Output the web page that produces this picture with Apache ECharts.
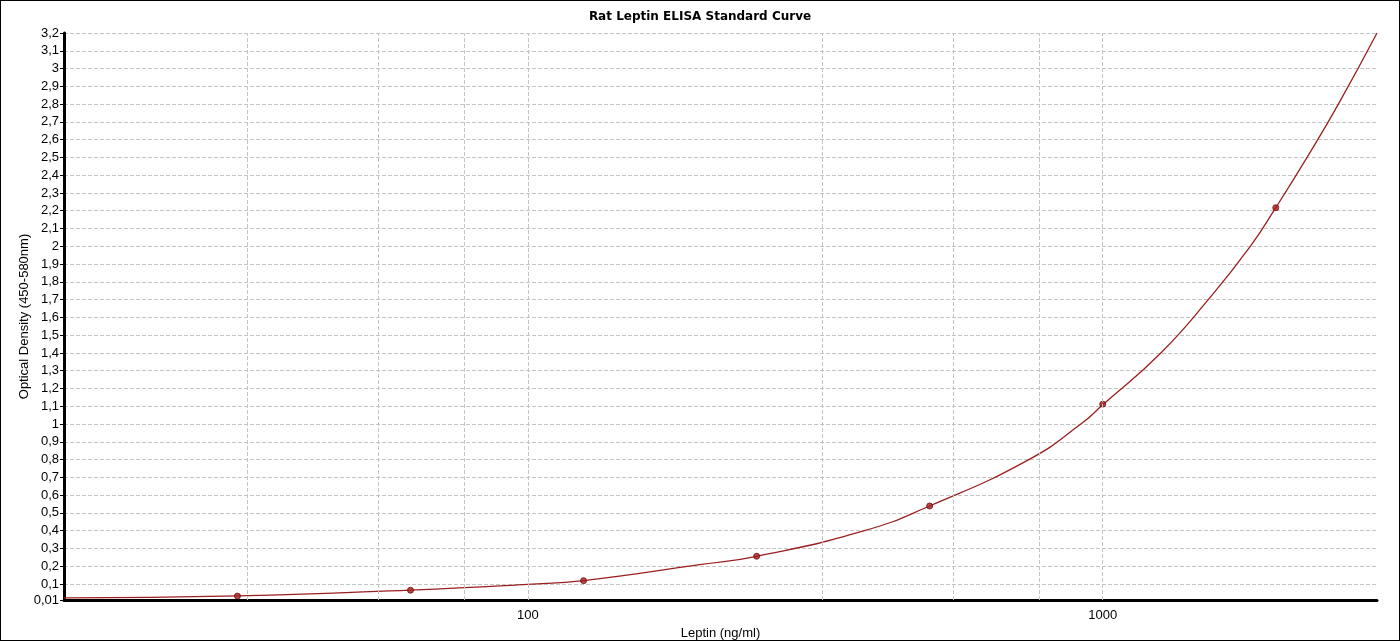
<!DOCTYPE html>
<html>
<head>
<meta charset="utf-8">
<script src="https://cdn.jsdelivr.net/npm/echarts@6/dist/echarts.min.js"></script>
<style>
  html, body { margin: 0; padding: 0; background: #fff; }
  #chart { width: 1398px; height: 639px; border: 1px solid #000; }
</style>
</head>
<body>
<div id="chart"></div>
<script>
// standards (ng/ml) and their measured OD
const stdConc = [31.25, 62.5, 125, 250, 500, 1000, 2000];
const stdOD = [0.032, 0.065, 0.119, 0.256, 0.539, 1.112, 2.217];

// fitted curve
const curveX = [15.6, 31.25, 62.5, 100, 125, 199, 250, 385, 500, 744, 916, 1000, 1262, 1526, 1806, 2000, 2267, 2570, 3000];
const curveY = [0.022, 0.033, 0.066, 0.098, 0.119, 0.209, 0.256, 0.4, 0.539, 0.8, 1.0, 1.108, 1.4, 1.7, 2.0, 2.217, 2.5, 2.8, 3.2];

// vertical grid positions and labelled x ticks
const gridX = [32.5, 55, 77.5, 100, 325, 550, 775, 1000];
const xLabels = [100, 1000];

const font = 'Liberation Sans, Arial, sans-serif';

let chart = echarts.init(document.getElementById('chart'));

let option = {
    animation: false,
    title: {
        text: 'Rat Leptin ELISA Standard Curve',
        left: 'center',
        top: 5,
        textStyle: { fontFamily: 'DejaVu Sans', fontSize: 12, fontWeight: 'bold', color: '#000' }
    },
    grid: { left: 63, right: 22, top: 32, bottom: 40, outerBoundsMode: 'none', containLabel: false },
    xAxis: {
        type: 'log',
        logBase: 10,
        min: 15.6,
        max: 3000,
        name: 'Leptin (ng/ml)',
        nameLocation: 'middle',
        nameGap: 27,
        nameTextStyle: { fontFamily: font, fontSize: 13, color: '#000' },
        axisLine: { lineStyle: { color: '#000', width: 3 } },
        axisTick: { show: false },
        splitLine: { show: false },
        axisLabel: {
            margin: 9,
            fontFamily: font, fontSize: 13, color: '#000',
            formatter: function (v) {
                for (let i = 0; i < xLabels.length; i++) {
                    if (Math.abs(v - xLabels[i]) < 1e-6 * xLabels[i]) return String(xLabels[i]);
                }
                return '';
            }
        }
    },
    yAxis: {
        type: 'value',
        min: 0.01,
        max: 3.2,
        splitNumber: 32,
        minInterval: 0.1,
        maxInterval: 0.1,
        name: 'Optical Density (450-580nm)',
        nameLocation: 'middle',
        nameGap: 33,
        nameMoveOverlap: false,
        nameTextStyle: { fontFamily: font, fontSize: 13, color: '#000' },
        axisLine: { show: true, lineStyle: { color: '#000', width: 3 } },
        axisTick: { show: true, length: 4, lineStyle: { color: '#000' } },
        axisLabel: {
            margin: 5,
            fontFamily: font, fontSize: 13, color: '#000',
            formatter: function (v) {
                return String(v).replace('.', ',');
            }
        },
        splitLine: { show: true, lineStyle: { color: '#c4c4c4', type: [4, 2], width: 1 } }
    },
    series: [
        {
            name: 'fit',
            type: 'line',
            smooth: 0.5,
            showSymbol: false,
            z: 3,
            lineStyle: { color: '#9a1f1f', width: 1.3 },
            data: curveX.map((x, i) => [x, curveY[i]]),
            markLine: {
                silent: true,
                symbol: 'none',
                label: { show: false },
                lineStyle: { color: '#c4c4c4', type: [4, 2], width: 1 },
                data: gridX.map(x => ({ xAxis: x }))
            }
        },
        {
            name: 'standards',
            type: 'scatter',
            symbol: 'circle',
            symbolSize: 6,
            z: 4,
            itemStyle: { color: '#a81c1c', borderColor: '#6a0f0f', borderWidth: 1 },
            data: stdConc.map((x, i) => [x, stdOD[i]])
        }
    ]
};

chart.setOption(option);
</script>
</body>
</html>
